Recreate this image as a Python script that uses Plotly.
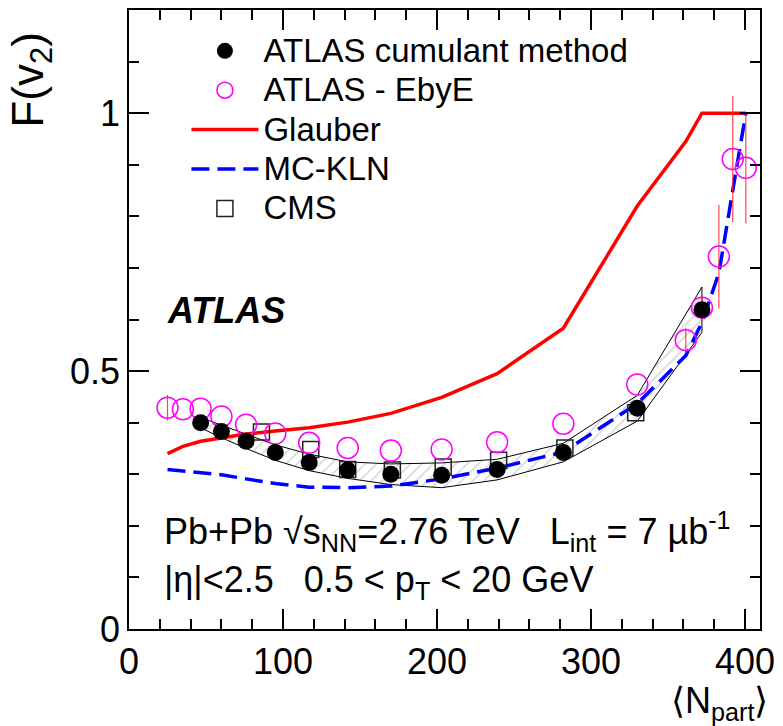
import plotly.graph_objects as go

# ---------------- data ----------------
npart_cum = [46.5, 60, 76, 95, 117, 142, 170, 203, 239, 282, 330, 372]
F_cum = [0.400, 0.383, 0.364, 0.342, 0.323, 0.308, 0.300, 0.298, 0.309, 0.342, 0.428, 0.619]
sys_cum = [0.010, 0.012, 0.014, 0.015, 0.016, 0.016, 0.020, 0.024, 0.020, 0.018, 0.025, 0.044]

npart_ebye = [25, 35, 46.5, 60, 76, 95, 117, 142, 170, 203, 239, 282, 330, 361.5, 372, 383, 392, 400.5]
F_ebye = [0.429, 0.426, 0.427, 0.412, 0.396, 0.379, 0.361, 0.351, 0.346, 0.348, 0.362, 0.398,
          0.474, 0.560, 0.623, 0.722, 0.911, 0.894]
# statistical errors; those smaller than the marker are hidden by it in the reference
err_ebye = [0.025, 0, 0, 0, 0, 0, 0, 0, 0, 0, 0, 0,
            0, 0.024, 0.025, 0.100, 0.122, 0.108]

npart_model = [25, 35, 46.5, 60, 76, 95, 117, 142, 170, 203, 239, 282, 330, 361.5, 372, 383, 392, 400.5]
F_glauber = [0.340, 0.354, 0.364, 0.371, 0.378, 0.384, 0.390, 0.401, 0.418, 0.449, 0.495, 0.583,
             0.820, 0.945, 1.0, 1.0, 1.0, 1.0]
F_kln = [0.309, 0.306, 0.302, 0.299, 0.291, 0.282, 0.275, 0.274, 0.277, 0.291, 0.312, 0.343,
         0.437, 0.530, 0.594, 0.690, 0.850, 1.0]

npart_cms = [86, 118, 142, 171, 204, 240, 283, 329]
F_cms = [0.382, 0.348, 0.309, 0.308, 0.314, 0.327, 0.351, 0.419]

x_ticks = [0, 100, 200, 300, 400]
y_ticks = [0, 0.5, 1]
y_ticklabels = ["0", "0.5", "1"]

FONT = "Liberation Sans, Arial, Helvetica, sans-serif"


def legend_name(s):
    return '<span style="font-size:33px">' + s + '</span>'


fig = go.Figure()

# systematic band (hatched)
band_x = npart_cum + npart_cum[::-1]
band_y = [v + s for v, s in zip(F_cum, sys_cum)] + [v - s for v, s in zip(F_cum[::-1], sys_cum[::-1])]
fig.add_trace(go.Scatter(
    x=band_x, y=band_y, mode="lines", fill="toself",
    line=dict(color="black", width=1),
    fillcolor="rgba(0,0,0,0)",
    fillpattern=dict(shape="/", fgcolor="#999999", bgcolor="white", size=8, solidity=0.15),
    showlegend=False, hoverinfo="skip"))

fig.add_trace(go.Scatter(
    x=npart_model, y=F_glauber, mode="lines", name=legend_name("Glauber"),
    line=dict(color="#ff0000", width=3.5), legendrank=3))

fig.add_trace(go.Scatter(
    x=npart_model, y=F_kln, mode="lines", name=legend_name("MC-KLN"),
    line=dict(color="#0000ff", width=3.5, dash="18px,8px"), legendrank=4))

fig.add_trace(go.Scatter(
    x=npart_cms, y=F_cms, mode="markers", name=legend_name("CMS"),
    marker=dict(symbol="square-open", size=16, color="#222222", line=dict(width=1.5)),
    legendrank=5))

fig.add_trace(go.Scatter(
    x=npart_ebye, y=F_ebye, mode="markers", name=legend_name("ATLAS - EbyE"),
    marker=dict(symbol="circle-open", size=21, color="#ff00ff", line=dict(width=1.5)),
    error_y=dict(type="data", array=err_ebye, color="rgba(255,40,40,0.85)", thickness=1.2, width=0),
    legendrank=2))

fig.add_trace(go.Scatter(
    x=npart_cum, y=F_cum, mode="markers", name=legend_name("ATLAS cumulant method"),
    marker=dict(symbol="circle", size=17, color="black"),
    legendrank=1))

axis_common = dict(
    showline=True, linecolor="black", linewidth=1.5, mirror="ticks",
    ticks="inside", ticklen=20, tickwidth=1.5, tickcolor="black",
    showgrid=False, zeroline=False,
    tickfont=dict(size=36, family=FONT, color="black"),
)

fig.update_xaxes(range=[0, 409.7], tickvals=x_ticks,
                 minor=dict(dtick=20, ticks="inside", ticklen=10, tickwidth=1.5, tickcolor="black"),
                 **axis_common)
fig.update_yaxes(range=[0, 1.2], tickvals=y_ticks, ticktext=y_ticklabels,
                 minor=dict(dtick=0.1, ticks="inside", ticklen=10, tickwidth=1.5, tickcolor="black"),
                 **axis_common)

fig.update_layout(
    width=783, height=726,
    margin=dict(l=129, r=19, t=8, b=97),
    plot_bgcolor="white", paper_bgcolor="white",
    font=dict(family=FONT, color="black"),
    legend=dict(x=0.091, y=0.974, xanchor="left", yanchor="top",
                font=dict(size=28, family=FONT), itemwidth=67,
                bgcolor="rgba(0,0,0,0)", tracegroupgap=0),
)

annotations = [
    dict(text="F(v<sub>2</sub>)", x=-0.156, y=0.887, textangle=-90, font=dict(size=44)),
    dict(text="⟨N<sub>part</sub>⟩", x=1.016, y=-0.12, xanchor="right", font=dict(size=36)),
    dict(text="<b><i>ATLAS</i></b>", x=0.057, y=0.515, xanchor="left", font=dict(size=36)),
    dict(text="Pb+Pb √s<sub>NN</sub>=2.76 TeV\u00a0\u00a0\u00a0L<sub>int</sub> = 7 µb<sup>-1</sup>",
         x=0.053, y=0.158, xanchor="left", font=dict(size=36)),
    dict(text="|η|<2.5\u00a0\u00a0 0.5 < p<sub>T</sub> < 20 GeV",
         x=0.053, y=0.076, xanchor="left", font=dict(size=36)),
]
for a in annotations:
    a.setdefault("xanchor", "center")
    a.update(xref="paper", yref="paper", showarrow=False, yanchor="middle")
    a["font"].update(family=FONT, color="black")
fig.update_layout(annotations=annotations)

fig.write_html("out.html")
